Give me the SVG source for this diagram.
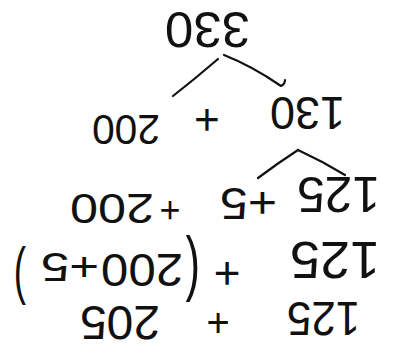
<svg xmlns="http://www.w3.org/2000/svg" width="399" height="354" viewBox="0 0 399 354">
<style>
text{font-family:"Liberation Sans","DejaVu Sans",sans-serif;fill:#111;}
.c{fill:none;stroke:#111;stroke-width:2.2;stroke-linecap:round;stroke-linejoin:round;}
</style>
<rect width="399" height="354" fill="#fff"/>
<g id="connectors">
<path class="c" d="M218,59 Q196,78 173,96"/>
<path class="c" d="M224,55 Q252,66 281,86 Q285,84 285,80"/>
<path class="c" d="M298,150 Q278,163 258,178"/>
<path class="c" d="M298,150 Q322,161 345,175"/>
</g>
<g transform="rotate(180 199.5 177)">
<g id="n330">
<text x="149" y="342" font-size="50" textLength="85" lengthAdjust="spacingAndGlyphs">330</text>
</g>
<g id="n130_200">
<text x="54" y="257" font-size="46" textLength="75" lengthAdjust="spacingAndGlyphs">130</text>
<text x="192" y="249" font-size="44" text-anchor="middle">+</text>
<text x="239" y="239" font-size="42" textLength="68" lengthAdjust="spacingAndGlyphs">200</text>
</g>
<g id="n125_5_200">
<text x="19" y="177" font-size="50" textLength="83" lengthAdjust="spacingAndGlyphs">125</text>
<text x="122" y="166" font-size="44" textLength="57" lengthAdjust="spacingAndGlyphs">+5</text>
<text x="229" y="156" font-size="36" text-anchor="middle">+</text>
<text x="245" y="160" font-size="42" textLength="84" lengthAdjust="spacingAndGlyphs">200</text>
</g>
<g id="n125_paren">
<text x="19" y="112" font-size="52" textLength="90" lengthAdjust="spacingAndGlyphs">125</text>
<text x="172" y="96" font-size="46" text-anchor="middle">+</text>
<text x="0" y="0" font-size="54" transform="translate(199 104) scale(0.8 1.35)">(</text>
<text x="216" y="100" font-size="46" textLength="82" lengthAdjust="spacingAndGlyphs">200</text>
<text x="300" y="101" font-size="40" textLength="58" lengthAdjust="spacingAndGlyphs">+5</text>
<text x="0" y="0" font-size="46" transform="translate(373 95) scale(0.8 1.35)">)</text>
</g>
<g id="n125_205">
<text x="39" y="52" font-size="48" textLength="73" lengthAdjust="spacingAndGlyphs">125</text>
<text x="181" y="45" font-size="40" text-anchor="middle">+</text>
<text x="239" y="48" font-size="48" textLength="80" lengthAdjust="spacingAndGlyphs">205</text>
</g>
</g>
</svg>
